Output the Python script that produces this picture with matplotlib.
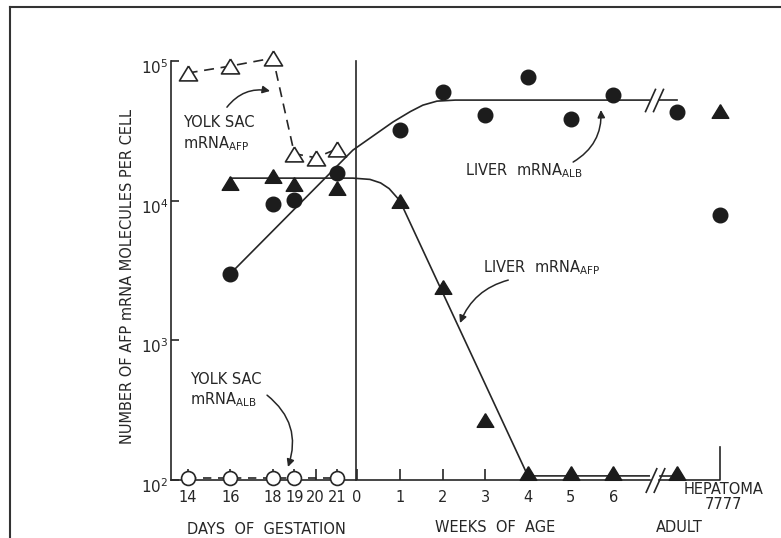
import matplotlib
matplotlib.use("Agg")
import matplotlib.pyplot as plt
from matplotlib.lines import Line2D
from matplotlib.ticker import NullLocator
from matplotlib.transforms import ScaledTranslation

plt.rcParams['font.family'] = ['DejaVu Sans']
plt.rcParams['mathtext.fontset'] = 'dejavusans'

INK = '#262626'

# ---- data ----
# yolk sac mRNA AFP (open triangles, dashed)
yolk_afp_days = [14, 16, 18, 19, 20, 21]
yolk_afp = [82000, 92000, 105000, 21700, 20300, 23500]

# yolk sac mRNA ALB (open circles, dashed)
yolk_alb_days = [14, 16, 18, 19, 21]
yolk_alb = [103, 103, 103, 103, 103]

# liver mRNA AFP (filled triangles)
liver_afp_days = [16, 18, 19, 21]
liver_afp_fetal = [13400, 15000, 13200, 12300]
liver_afp_weeks = [1, 2, 3, 4, 5, 6]
liver_afp_post = [10000, 2400, 270, 112, 112, 112]
liver_afp_adult = 112
liver_afp_hepatoma = 44000

# liver mRNA ALB (filled circles)
liver_alb_days = [16, 18, 19, 21]
liver_alb_fetal = [3000, 9400, 10100, 15800]
liver_alb_weeks = [1, 2, 3, 4, 5, 6]
liver_alb_post = [32000, 60000, 41000, 77000, 38500, 57000]
liver_alb_adult = 43000
liver_alb_hepatoma = 7900

# hand-drawn fit curves (traced), x in week units
afp_fit_x = [-2.97, -0.1, 0.3, 0.55, 0.75, 1.0, 4.0, 6.84]
afp_fit_y = [14500, 14500, 14200, 13400, 12200, 10000, 107, 107]
afp_fit_adult_x = [7.1, 7.6]
afp_fit_adult_y = [107, 107]
alb_fit_x = [-2.97, -0.1, 0.84, 1.25, 1.54, 1.87, 2.3, 6.84]
alb_fit_y = [3000, 23000, 36600, 43500, 48300, 51600, 52500, 52500]
alb_fit_adult_x = [7.08, 7.5]
alb_fit_adult_y = [52500, 52500]

day_ticks = [14, 16, 18, 19, 20, 21]
week_ticks = [0, 1, 2, 3, 4, 5, 6]
y_ticks = [1e2, 1e3, 1e4, 1e5]
y_tick_labels = ['$10^2$', '$10^3$', '$10^4$', '$10^5$']

ADULT_X = 7.5
HEPATOMA_X = 8.5

# slightly flattened triangle, like the drawn symbols
TRI = [(0, 0.82), (-1, -0.82), (1, -0.82), (0, 0.82)]


def day_x(d):
    # gestation days are drawn at half the spacing of weeks, left of week 0
    return (d - 21) * 0.5 - 0.47


fig = plt.figure(figsize=(7.81, 5.38), dpi=100)
ax = fig.add_axes([171 / 781, 1 - 480 / 538, 549 / 781, 419 / 538])
ax.set_yscale('log')
ax.set_xlim(-4.36, 8.5)
ax.set_ylim(100, 1e5)

for s in ['top', 'right', 'bottom']:
    ax.spines[s].set_visible(False)
ax.spines['left'].set_color(INK)
ax.spines['left'].set_linewidth(1.2)

kw = dict(clip_on=False, zorder=4)

# fit curves
ax.plot(afp_fit_x, afp_fit_y, color=INK, lw=1.2, clip_on=False, zorder=3)
ax.plot(afp_fit_adult_x, afp_fit_adult_y, color=INK, lw=1.2, clip_on=False, zorder=3)
ax.plot(alb_fit_x, alb_fit_y, color=INK, lw=1.2, clip_on=False, zorder=3)
ax.plot(alb_fit_adult_x, alb_fit_adult_y, color=INK, lw=1.2, clip_on=False, zorder=3)

# yolk sac series (dashed)
ax.plot([day_x(d) for d in yolk_afp_days], yolk_afp, ls=(0, (6, 4)), lw=1.2,
        color=INK, marker=TRI, ms=13, mfc='white', mec=INK, mew=1.2, **kw)
ax.plot([day_x(d) for d in yolk_alb_days], yolk_alb, ls=(0, (5, 4)), lw=1.2,
        color=INK, marker='o', ms=10, mfc='white', mec=INK, mew=1.2, **kw)

# liver AFP markers
afp_x = [day_x(d) for d in liver_afp_days] + liver_afp_weeks + [ADULT_X, HEPATOMA_X]
afp_y = liver_afp_fetal + liver_afp_post + [liver_afp_adult, liver_afp_hepatoma]
ax.plot(afp_x, afp_y, ls='none', marker=TRI, ms=12, color='#1c1c1c', **kw)

# liver ALB markers
alb_x = [day_x(d) for d in liver_alb_days] + liver_alb_weeks + [ADULT_X, HEPATOMA_X]
alb_y = liver_alb_fetal + liver_alb_post + [liver_alb_adult, liver_alb_hepatoma]
ax.plot(alb_x, alb_y, ls='none', marker='o', ms=10.5, color='#1c1c1c', **kw)

# axes furniture: bottom line with break, hepatoma stub, gestation/age divider
ax.plot([-4.36, 6.86], [100, 100], color=INK, lw=1.2, clip_on=False, zorder=2)
ax.plot([7.08, 8.5, 8.5], [100, 100, 172], color=INK, lw=1.2, clip_on=False, zorder=2)
ax.plot([-0.02, -0.02], [100, 1e5], color=INK, lw=1.2, clip_on=False, zorder=2)
brk = [(-0.45, -1), (0.45, 1)]
ax.plot([6.88, 7.07], [100, 100], ls='none', marker=brk, ms=18, mew=1.2, mec=INK, clip_on=False)
ax.plot([6.86, 7.04], [52500, 52500], ls='none', marker=brk, ms=17, mew=1.2, mec=INK, clip_on=False)

# ticks
xt = [day_x(d) for d in day_ticks] + week_ticks
xl = [str(d) for d in day_ticks] + [str(w) for w in week_ticks]
ax.set_xticks(xt)
ax.set_xticklabels(xl)
ax.tick_params(axis='x', direction='in', length=8, width=1.2, color=INK, pad=7,
               labelsize=10.5, labelcolor=INK)
ax.set_yticks(y_ticks)
ax.set_yticklabels(y_tick_labels)
ax.yaxis.set_minor_locator(NullLocator())
ax.tick_params(axis='y', direction='in', length=6, width=1.2, color=INK, pad=2,
               labelsize=11, labelcolor=INK)
for lab in ax.get_yticklabels():
    lab.set_transform(lab.get_transform() + ScaledTranslation(0, -5 / 100, fig.dpi_scale_trans))

# curve labels and arrows
tkw = dict(fontsize=10.5, color=INK)
ax.text(-4.08, 30000, 'YOLK SAC\nmRNA$_{\\mathregular{AFP}}$', va='center', ha='left',
        linespacing=1.25, **tkw)
ax.text(-3.91, 440, 'YOLK SAC\nmRNA$_{\\mathregular{ALB}}$', va='center', ha='left',
        linespacing=1.25, **tkw)
ax.text(2.53, 16300, 'LIVER  mRNA$_{\\mathregular{ALB}}$', va='center', ha='left', **tkw)
ax.text(2.95, 3300, 'LIVER  mRNA$_{\\mathregular{AFP}}$', va='center', ha='left', **tkw)

akw = dict(arrowstyle='-|>', color=INK, lw=1.1, mutation_scale=11, shrinkA=0, shrinkB=0)
ax.annotate('', xy=(-2.04, 61000), xytext=(-3.05, 46700),
            arrowprops=dict(connectionstyle='arc3,rad=-0.3', **akw))
ax.annotate('', xy=(-1.62, 124), xytext=(-2.11, 405),
            arrowprops=dict(connectionstyle='arc3,rad=-0.35', **akw))
ax.annotate('', xy=(5.71, 44600), xytext=(5.06, 18900),
            arrowprops=dict(connectionstyle='arc3,rad=0.3', **akw))
ax.annotate('', xy=(2.41, 1330), xytext=(3.54, 2700),
            arrowprops=dict(connectionstyle='arc3,rad=0.25', **akw))

# axis titles
fig.text(127 / 781, 1 - 276 / 538, 'NUMBER OF AFP mRNA MOLECULES PER CELL', rotation=90,
         ha='center', va='center', fontsize=10.5, color=INK)
fig.text(266 / 781, 1 - 529 / 538, 'DAYS  OF  GESTATION', ha='center', va='center',
         fontsize=10.5, color=INK)
fig.text(495 / 781, 1 - 528 / 538, 'WEEKS  OF  AGE', ha='center', va='center',
         fontsize=10.5, color=INK)
fig.text(679 / 781, 1 - 527 / 538, 'ADULT', ha='center', va='center', fontsize=10.5, color=INK)
fig.text(724 / 781, 1 - 497 / 538, 'HEPATOMA\n7777', ha='center', va='center',
         fontsize=10.5, color=INK, linespacing=0.95)

# frame of the scanned page (left and top edges only)
fig.add_artist(Line2D([10 / 781, 10 / 781], [0, 1 - 7 / 538], transform=fig.transFigure,
                      color='#333333', lw=1.5))
fig.add_artist(Line2D([10 / 781, 1], [1 - 7 / 538, 1 - 7 / 538], transform=fig.transFigure,
                      color='#333333', lw=1.5))

fig.savefig('out.png', dpi=100)
